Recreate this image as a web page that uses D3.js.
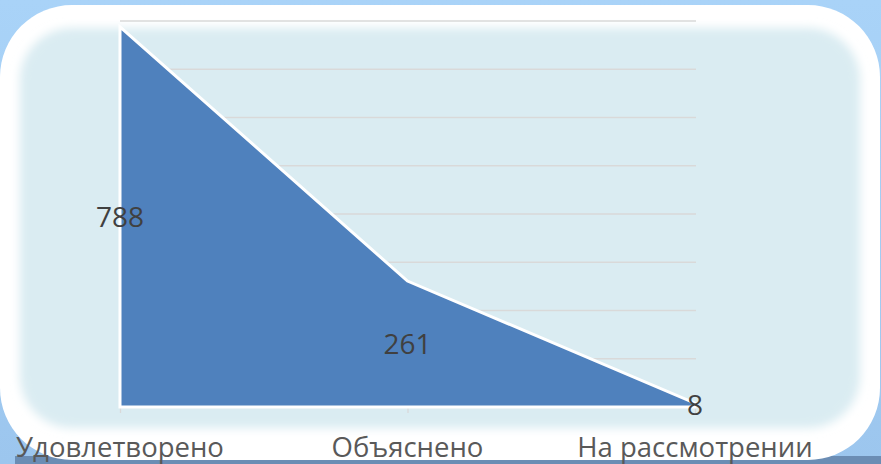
<!DOCTYPE html>
<html>
<head>
<meta charset="utf-8">
<script src="https://cdnjs.cloudflare.com/ajax/libs/d3/7.8.5/d3.min.js"></script>
<style>
  html, body { margin: 0; padding: 0; background: #a9d2f7; }
  svg { display: block; }
</style>
</head>
<body>
<script>
// Datos del grafico
var categorias = ["Удовлетворено", "Объяснено", "На рассмотрении"];
var valores = [788, 261, 8];
var ticksY = [0, 100, 200, 300, 400, 500, 600, 700, 800];

var w = 881;
var h = 464;

var svg = d3.select("body")
    .append("svg")
        .attr("width", w)
        .attr("height", h);

var defs = svg.append("defs");
var fondo = defs.append("linearGradient")
    .attr("id", "fondo")
    .attr("x1", 0).attr("y1", 0).attr("x2", 0).attr("y2", 1);
fondo.append("stop").attr("offset", "0%").attr("stop-color", "#a9d3f8");
fondo.append("stop").attr("offset", "100%").attr("stop-color", "#9cc6ee");

defs.append("filter")
    .attr("id", "difuso")
    .attr("x", "-10%").attr("y", "-10%").attr("width", "120%").attr("height", "120%")
  .append("feGaussianBlur")
    .attr("stdDeviation", 5);

// Fondo azul y franja inferior
svg.append("rect")
    .attr("width", w).attr("height", h)
    .attr("fill", "url(#fondo)");
svg.append("rect")
    .attr("x", 15).attr("y", 456)
    .attr("width", w - 15).attr("height", h - 456)
    .attr("fill", "#6b8db4");

// Panel redondeado con borde blanco difuso
svg.append("rect")
    .attr("x", 0).attr("y", 5)
    .attr("width", 880).attr("height", 455)
    .attr("rx", 72).attr("ry", 72)
    .attr("fill", "#ffffff");
svg.append("rect")
    .attr("x", 20).attr("y", 28)
    .attr("width", 840).attr("height", 400)
    .attr("rx", 52).attr("ry", 52)
    .attr("fill", "#daecf2")
    .attr("filter", "url(#difuso)");

// Escalas
var x = d3.scalePoint()
    .domain(categorias)
    .range([120, 695]);

var y = d3.scaleLinear()
    .domain([0, 800])
    .range([407, 21]);

// Lineas de la cuadricula
svg.append("g")
    .selectAll("line")
    .data(ticksY.slice(1))
    .enter()
        .append("line")
        .attr("x1", 120)
        .attr("x2", 696)
        .attr("y1", function(d) { return y(d); })
        .attr("y2", function(d) { return y(d); })
        .attr("stroke", "#d9d9d9")
        .attr("stroke-width", 1.3);

// Eje X
var ejeX = svg.append("g")
    .attr("transform", "translate(0," + y(0) + ")")
    .call(d3.axisBottom(x).tickSize(6).tickSizeOuter(0).tickFormat(""));
ejeX.select(".domain").attr("stroke", "#d9d9d9").attr("stroke-width", 1.3)
    .attr("d", "M119,0.5H696");
ejeX.selectAll(".tick line").attr("stroke", "#d9d9d9").attr("stroke-width", 1.3);

// Area
var area = d3.area()
    .x(function(d, i) { return x(categorias[i]); })
    .y0(y(0))
    .y1(function(d) { return y(d); });

svg.append("path")
    .datum(valores)
    .attr("d", function(d) { return area(d) + "Z"; })
    .attr("fill", "#4f81bd")
    .attr("stroke", "#ffffff")
    .attr("stroke-width", 3)
    .attr("stroke-linejoin", "miter");

// Etiquetas de valores
svg.append("g")
    .selectAll("text")
    .data(valores)
    .enter()
        .append("text")
        .attr("x", function(d, i) { return x(categorias[i]); })
        .attr("y", function(d) { return y(d / 2); })
        .attr("dy", "0.35em")
        .attr("text-anchor", "middle")
        .attr("font-family", "'Open Sans', sans-serif")
        .attr("font-size", 28)
        .attr("fill", "#404040")
        .text(function(d) { return d; });

// Etiquetas de categorias
svg.append("g")
    .selectAll("text")
    .data(categorias)
    .enter()
        .append("text")
        .attr("x", function(d) { return x(d); })
        .attr("y", 457)
        .attr("text-anchor", "middle")
        .attr("font-family", "'Open Sans', sans-serif")
        .attr("font-size", 27.5)
        .attr("fill", "#595959")
        .text(function(d) { return d; });
</script>
</body>
</html>
